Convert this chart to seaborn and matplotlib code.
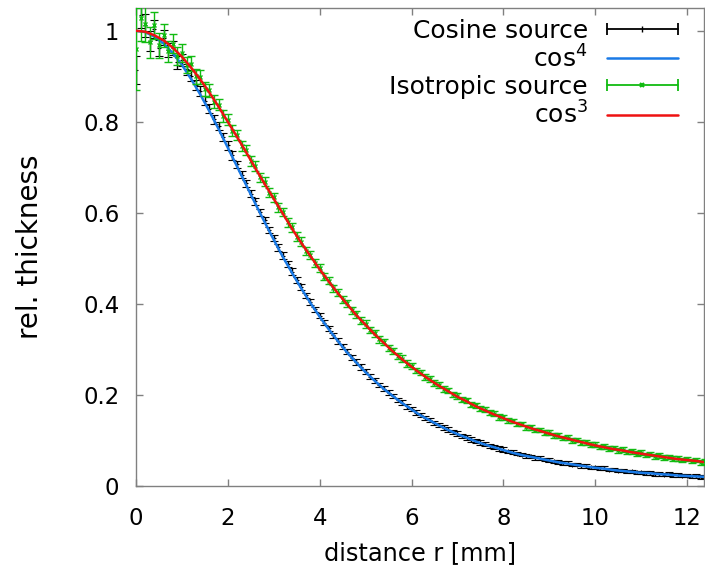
import numpy as np
import pandas as pd
import seaborn as sns
import matplotlib
matplotlib.use('Agg')
import matplotlib.pyplot as plt
from matplotlib.lines import Line2D
from matplotlib.legend_handler import HandlerLine2D, HandlerTuple

# radial positions of the measured points [mm]
r_data = [0.0, 0.1, 0.2, 0.3, 0.4, 0.5, 0.6, 0.7, 0.8, 0.9,
          1.0, 1.1, 1.2, 1.3, 1.4, 1.5, 1.6, 1.7, 1.8, 1.9,
          2.0, 2.1, 2.2, 2.3, 2.4, 2.5, 2.6, 2.7, 2.8, 2.9,
          3.0, 3.1, 3.2, 3.3, 3.4, 3.5, 3.6, 3.7, 3.8, 3.9,
          4.0, 4.1, 4.2, 4.3, 4.4, 4.5, 4.6, 4.7, 4.8, 4.9,
          5.0, 5.1, 5.2, 5.3, 5.4, 5.5, 5.6, 5.7, 5.8, 5.9,
          6.0, 6.1, 6.2, 6.3, 6.4, 6.5, 6.6, 6.7, 6.8, 6.9,
          7.0, 7.1, 7.2, 7.3, 7.4, 7.5, 7.6, 7.7, 7.8, 7.9,
          8.0, 8.1, 8.2, 8.3, 8.4, 8.5, 8.6, 8.7, 8.8, 8.9,
          9.0, 9.1, 9.2, 9.3, 9.4, 9.5, 9.6, 9.7, 9.8, 9.9,
          10.0, 10.1, 10.2, 10.3, 10.4, 10.5, 10.6, 10.7, 10.8, 10.9,
          11.0, 11.1, 11.2, 11.3, 11.4, 11.5, 11.6, 11.7, 11.8, 11.9,
          12.0, 12.1, 12.2, 12.3, 12.4]

# cosine source - measured thickness
y_cos = [0.914, 1.035, 1.012, 0.978, 1.004, 0.962, 0.985, 0.958, 0.962, 0.931,
         0.936, 0.915, 0.901, 0.880, 0.867, 0.846, 0.829, 0.806, 0.790, 0.767,
         0.748, 0.726, 0.707, 0.684, 0.665, 0.642, 0.625, 0.601, 0.584, 0.562,
         0.545, 0.524, 0.506, 0.487, 0.471, 0.452, 0.437, 0.419, 0.404, 0.388,
         0.374, 0.359, 0.346, 0.331, 0.319, 0.306, 0.295, 0.282, 0.272, 0.261,
         0.251, 0.240, 0.232, 0.222, 0.214, 0.205, 0.198, 0.189, 0.183, 0.175,
         0.169, 0.161, 0.156, 0.149, 0.145, 0.138, 0.134, 0.128, 0.124, 0.119,
         0.115, 0.110, 0.107, 0.102, 0.099, 0.095, 0.092, 0.088, 0.086, 0.082,
         0.080, 0.076, 0.074, 0.071, 0.069, 0.066, 0.065, 0.062, 0.061, 0.058,
         0.057, 0.054, 0.053, 0.050, 0.050, 0.047, 0.047, 0.044, 0.044, 0.041,
         0.041, 0.039, 0.039, 0.036, 0.036, 0.034, 0.034, 0.032, 0.032, 0.030,
         0.030, 0.028, 0.029, 0.027, 0.027, 0.025, 0.026, 0.024, 0.024, 0.023,
         0.023, 0.021, 0.022, 0.020, 0.021]
err_cos = [0.030, 0.030, 0.025, 0.022, 0.020, 0.018, 0.017, 0.016, 0.015, 0.014,
           0.013, 0.012, 0.012, 0.011, 0.011, 0.010, 0.010, 0.010, 0.009, 0.009,
           0.009, 0.009, 0.008, 0.008, 0.008, 0.008, 0.008, 0.008, 0.007, 0.007,
           0.007, 0.007, 0.007, 0.007, 0.007, 0.007, 0.007, 0.006, 0.006, 0.006,
           0.006, 0.006, 0.006, 0.006, 0.006, 0.006, 0.006, 0.006, 0.006, 0.006,
           0.006, 0.005, 0.005, 0.005, 0.005, 0.005, 0.005, 0.005, 0.005, 0.005,
           0.005, 0.005, 0.005, 0.005, 0.005, 0.005, 0.005, 0.005, 0.005, 0.005,
           0.005, 0.005, 0.005, 0.005, 0.005, 0.005, 0.005, 0.005, 0.005, 0.005,
           0.005, 0.004, 0.004, 0.004, 0.004, 0.004, 0.004, 0.004, 0.004, 0.004,
           0.004, 0.004, 0.004, 0.004, 0.004, 0.004, 0.004, 0.004, 0.004, 0.004,
           0.004, 0.004, 0.004, 0.004, 0.004, 0.004, 0.004, 0.004, 0.004, 0.004,
           0.004, 0.004, 0.004, 0.004, 0.004, 0.004, 0.004, 0.004, 0.004, 0.004,
           0.004, 0.004, 0.004, 0.004, 0.004]

# isotropic source - measured thickness
y_iso = [0.960, 1.028, 1.015, 0.975, 1.012, 0.968, 0.990, 0.955, 0.972, 0.944,
         0.951, 0.925, 0.928, 0.900, 0.899, 0.872, 0.869, 0.844, 0.838, 0.812,
         0.805, 0.780, 0.771, 0.746, 0.737, 0.713, 0.702, 0.678, 0.668, 0.644,
         0.634, 0.612, 0.601, 0.579, 0.568, 0.548, 0.537, 0.517, 0.507, 0.489,
         0.478, 0.460, 0.451, 0.434, 0.425, 0.409, 0.401, 0.386, 0.377, 0.363,
         0.356, 0.342, 0.335, 0.322, 0.316, 0.303, 0.297, 0.286, 0.280, 0.269,
         0.264, 0.254, 0.249, 0.239, 0.235, 0.226, 0.222, 0.213, 0.210, 0.201,
         0.198, 0.190, 0.188, 0.179, 0.177, 0.170, 0.168, 0.161, 0.159, 0.152,
         0.151, 0.144, 0.143, 0.136, 0.136, 0.129, 0.129, 0.123, 0.123, 0.117,
         0.117, 0.111, 0.111, 0.105, 0.106, 0.100, 0.101, 0.095, 0.096, 0.091,
         0.091, 0.086, 0.087, 0.082, 0.083, 0.078, 0.080, 0.075, 0.076, 0.071,
         0.073, 0.068, 0.070, 0.065, 0.067, 0.062, 0.064, 0.060, 0.061, 0.057,
         0.059, 0.055, 0.057, 0.052, 0.054]
err_iso = [0.090, 0.050, 0.040, 0.034, 0.030, 0.027, 0.025, 0.023, 0.021, 0.020,
           0.019, 0.018, 0.017, 0.016, 0.015, 0.015, 0.014, 0.014, 0.013, 0.013,
           0.012, 0.012, 0.012, 0.011, 0.011, 0.011, 0.011, 0.010, 0.010, 0.010,
           0.010, 0.010, 0.009, 0.009, 0.009, 0.009, 0.009, 0.009, 0.009, 0.009,
           0.009, 0.008, 0.008, 0.008, 0.008, 0.008, 0.008, 0.008, 0.008, 0.008,
           0.008, 0.007, 0.007, 0.007, 0.007, 0.007, 0.007, 0.007, 0.007, 0.007,
           0.007, 0.006, 0.006, 0.006, 0.006, 0.006, 0.006, 0.006, 0.006, 0.006,
           0.006, 0.006, 0.006, 0.006, 0.006, 0.006, 0.006, 0.006, 0.006, 0.006,
           0.006, 0.005, 0.005, 0.005, 0.005, 0.005, 0.005, 0.005, 0.005, 0.005,
           0.005, 0.005, 0.005, 0.005, 0.005, 0.005, 0.005, 0.005, 0.005, 0.005,
           0.005, 0.005, 0.005, 0.005, 0.005, 0.005, 0.005, 0.005, 0.005, 0.005,
           0.005, 0.005, 0.005, 0.005, 0.005, 0.005, 0.005, 0.005, 0.005, 0.005,
           0.005, 0.005, 0.005, 0.005, 0.005]

# fitted curves
r_fit = [0.0, 0.2, 0.4, 0.6, 0.8, 1.0, 1.2, 1.4, 1.6, 1.8,
         2.0, 2.2, 2.4, 2.6, 2.8, 3.0, 3.2, 3.4, 3.6, 3.8,
         4.0, 4.2, 4.4, 4.6, 4.8, 5.0, 5.2, 5.4, 5.6, 5.8,
         6.0, 6.2, 6.4, 6.6, 6.8, 7.0, 7.2, 7.4, 7.6, 7.8,
         8.0, 8.2, 8.4, 8.6, 8.8, 9.0, 9.2, 9.4, 9.6, 9.8,
         10.0, 10.2, 10.4, 10.6, 10.8, 11.0, 11.2, 11.4, 11.6, 11.8,
         12.0, 12.2, 12.4]
fit_cos4 = [1.000, 0.997, 0.987, 0.972, 0.951, 0.925, 0.894, 0.860, 0.823, 0.784,
            0.743, 0.702, 0.661, 0.620, 0.580, 0.541, 0.503, 0.468, 0.434, 0.402,
            0.372, 0.344, 0.318, 0.293, 0.271, 0.250, 0.231, 0.213, 0.197, 0.182,
            0.168, 0.155, 0.144, 0.133, 0.123, 0.114, 0.106, 0.098, 0.091, 0.085,
            0.079, 0.073, 0.068, 0.064, 0.060, 0.056, 0.052, 0.049, 0.046, 0.043,
            0.040, 0.038, 0.035, 0.033, 0.031, 0.029, 0.028, 0.026, 0.025, 0.023,
            0.022, 0.021, 0.020]
fit_cos3 = [1.000, 0.998, 0.990, 0.979, 0.963, 0.943, 0.919, 0.893, 0.864, 0.833,
            0.800, 0.767, 0.733, 0.698, 0.664, 0.631, 0.598, 0.565, 0.534, 0.505,
            0.476, 0.449, 0.423, 0.399, 0.375, 0.354, 0.333, 0.314, 0.295, 0.278,
            0.262, 0.247, 0.233, 0.220, 0.208, 0.196, 0.186, 0.175, 0.166, 0.157,
            0.149, 0.141, 0.134, 0.127, 0.121, 0.115, 0.109, 0.104, 0.099, 0.094,
            0.089, 0.085, 0.081, 0.078, 0.074, 0.071, 0.068, 0.065, 0.062, 0.059,
            0.057, 0.055, 0.052]

x_ticks = [0, 2, 4, 6, 8, 10, 12]
y_ticks = [0, 0.2, 0.4, 0.6, 0.8, 1]
y_ticklabels = ['0', '0.2', '0.4', '0.6', '0.8', '1']

# colours (gnuplot-ish)
c_cos = 'black'
c_fit4 = '#1a7ae6'
c_iso = '#11bb11'
c_fit3 = '#ee1111'

sns.set_theme(style="ticks")
plt.rcParams['font.family'] = ['DejaVu Sans']
plt.rcParams['text.color'] = 'black'
plt.rcParams['axes.labelcolor'] = 'black'

fig = plt.figure(figsize=(7.05, 5.72), dpi=100)
ax = fig.add_axes([136/705, 86/572, 568/705, 478/572])

fits = pd.DataFrame({'r': r_fit, 'cos4': fit_cos4, 'cos3': fit_cos3})

ax.errorbar(r_data, y_cos, yerr=err_cos, fmt='+', color=c_cos, ms=3, mew=0.8,
            elinewidth=1.0, capsize=2.6, capthick=1.1, zorder=2)
sns.lineplot(data=fits, x='r', y='cos4', color=c_fit4, lw=1.8, ax=ax, zorder=3)
ax.errorbar(r_data, y_iso, yerr=err_iso, fmt='x', color=c_iso, ms=2.5, mew=1.0,
            elinewidth=1.0, capsize=2.6, capthick=1.1, zorder=4)
sns.lineplot(data=fits, x='r', y='cos3', color=c_fit3, lw=1.8, ax=ax, zorder=5)

ax.set_xlim(0, 12.37)
ax.set_ylim(0, 1.05)
ax.set_xticks(x_ticks)
ax.set_yticks(y_ticks)
ax.set_yticklabels(y_ticklabels)
ax.set_xlabel('distance r [mm]', fontsize=17.3, labelpad=8)
ax.set_ylabel('rel. thickness', fontsize=20, labelpad=28)

for s in ax.spines.values():
    s.set_color('#808080')
    s.set_linewidth(1.0)
ax.tick_params(direction='in', length=5, width=1, color='#808080',
               top=True, right=True, labelsize=16.4, labelcolor='black')
ax.tick_params(axis='x', pad=15)
ax.tick_params(axis='y', pad=12)

# gnuplot-like key: text on the left, sample on the right
cap_cos = Line2D([], [], color=c_cos, lw=1.3, marker='|', ms=9, mew=1.3)
mid_cos = Line2D([], [], ls='none', color=c_cos, marker='|', ms=4, mew=1.0)
line4 = Line2D([], [], color=c_fit4, lw=1.8)
cap_iso = Line2D([], [], color=c_iso, lw=1.3, marker='|', ms=9, mew=1.3)
mid_iso = Line2D([], [], ls='none', color=c_iso, marker='x', ms=3.5, mew=1.5)
line3 = Line2D([], [], color=c_fit3, lw=1.8)

hmap = {cap_cos: HandlerLine2D(numpoints=2, marker_pad=0),
        cap_iso: HandlerLine2D(numpoints=2, marker_pad=0),
        mid_cos: HandlerLine2D(numpoints=1),
        mid_iso: HandlerLine2D(numpoints=1),
        tuple: HandlerTuple(ndivide=1, pad=0)}

leg = ax.legend([(cap_cos, mid_cos), line4, (cap_iso, mid_iso), line3],
                ['Cosine source', 'cos$^4$', 'Isotropic source', 'cos$^3$'],
                handler_map=hmap, markerfirst=False, frameon=False,
                loc='upper right', bbox_to_anchor=(0.954, 0.978),
                borderpad=0, borderaxespad=0, handlelength=2.85,
                handletextpad=0.75, labelspacing=0.1, fontsize=18)
for t in leg.get_texts():
    t.set_color('black')

fig.savefig('out.png', dpi=100)
